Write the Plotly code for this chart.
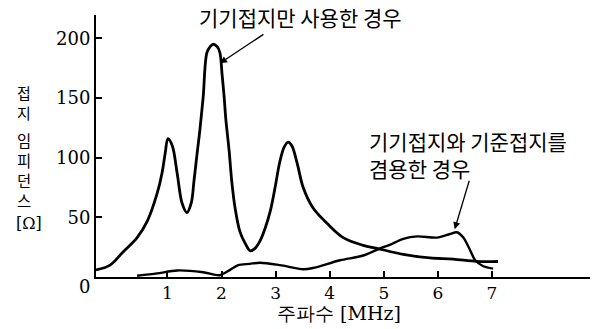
import plotly.graph_objects as go

# ---- data ----
freq_main = [-0.32, -0.06, 0.18, 0.44, 0.63, 0.81, 0.90, 0.96, 1.01, 1.09, 1.18, 1.27, 1.36,
             1.44, 1.49, 1.55, 1.60, 1.66, 1.73, 1.79, 1.84, 1.92, 1.97, 2.01, 2.05, 2.08,
             2.14, 2.19, 2.25, 2.34, 2.44, 2.53, 2.62, 2.71, 2.80, 2.90, 2.99, 3.08, 3.16,
             3.23, 3.30, 3.40, 3.51, 3.69, 3.95, 4.25, 4.62, 4.87, 5.36, 5.85, 6.28, 6.72, 7.11]
imp_main = [6, 10, 21, 33, 47, 70, 87, 104, 116, 110, 87, 62, 54,
            62, 80, 104, 123, 150, 188, 193, 195, 193, 188, 170, 150, 132,
            106, 80, 58, 38, 28, 22, 24, 30, 40, 55, 75, 97, 109,
            113, 110, 95, 75, 58, 45, 33, 26.5, 24, 19, 16, 15, 13, 13]

freq_comb = [0.44, 0.81, 1.18, 1.66, 1.97, 2.16, 2.31, 2.52, 2.71, 3.08, 3.51, 3.69,
             4.19, 4.62, 4.93, 5.11, 5.36, 5.62, 5.98, 6.22, 6.35, 6.47, 6.60, 6.69, 6.84, 7.02]
imp_comb = [1, 3, 5.5, 4, 1.5, 6, 10, 11, 12, 10, 6.5, 7.5,
            14, 18, 24, 27, 32, 34, 33, 36, 37.5, 33, 22, 14, 9, 7]

x_ticks = [1, 2, 3, 4, 5, 6, 7]
y_ticks = [50, 100, 150, 200]

label_main = "기기접지만 사용한 경우"
label_comb = "기기접지와 기준접지를<br>겸용한 경우"
x_title = "주파수 [MHz]"
y_title_parts = ["접<br>지", "임<br>피<br>던<br>스", "[Ω]"]

# ---- layout geometry ----
W, H = 595, 329
L, R, T, B = 96, 5, 15, 52
PW, PH = W - L - R, H - T - B

def px(xp):
    return (xp - L) / PW

def py(yp):
    return (H - B - yp) / PH

KR = "Noto Sans CJK KR"
SERIF = "DejaVu Serif"

fig = go.Figure()
fig.add_trace(go.Scatter(x=freq_main, y=imp_main, mode="lines",
                         line=dict(color="black", width=2.8, shape="spline", smoothing=1.0),
                         hoverinfo="skip"))
fig.add_trace(go.Scatter(x=freq_comb, y=imp_comb, mode="lines",
                         line=dict(color="black", width=2.4, shape="spline", smoothing=0.8),
                         hoverinfo="skip"))

ann = []
ann.append(dict(text=label_main, xref="paper", yref="paper", x=px(300), y=py(17),
                xanchor="center", yanchor="middle", showarrow=False,
                font=dict(family=KR, size=21, color="black")))
ann.append(dict(text=label_comb, xref="paper", yref="paper", x=px(367), y=py(154.5),
                xanchor="left", yanchor="middle", align="left", showarrow=False,
                font=dict(family=KR, size=21, color="black")))
# arrows
ann.append(dict(text="", xref="x", yref="y", x=1.97, y=179, ax=45, ay=-30,
                showarrow=True, arrowhead=2, arrowsize=1.1, arrowwidth=1.3, arrowcolor="black"))
ann.append(dict(text="", xref="x", yref="y", x=6.31, y=40, ax=15, ay=-50,
                showarrow=True, arrowhead=2, arrowsize=1.1, arrowwidth=1.3, arrowcolor="black"))
# x title
ann.append(dict(text=x_title, xref="paper", yref="paper", x=px(339), y=py(313),
                xanchor="center", yanchor="middle", showarrow=False,
                font=dict(family=SERIF, size=19, color="black")))
# origin label
ann.append(dict(text="0", xref="paper", yref="paper", x=px(84), y=py(286),
                xanchor="center", yanchor="middle", showarrow=False,
                font=dict(family=SERIF, size=18, color="black")))
# vertical (stacked) y title
y_title_y = [102.5, 169.5, 223]
y_title_x = [24, 24, 29]
y_title_fonts = [KR, KR, SERIF]
y_title_sizes = [15, 15.4, 16]
for txt, yy, xx, fam, sz in zip(y_title_parts, y_title_y, y_title_x, y_title_fonts, y_title_sizes):
    ann.append(dict(text=txt, xref="paper", yref="paper", x=px(xx), y=py(yy),
                    xanchor="center", yanchor="middle", showarrow=False,
                    font=dict(family=fam, size=sz, color="black")))

fig.update_layout(
    width=W, height=H,
    margin=dict(l=L, r=R, t=T, b=B),
    paper_bgcolor="white", plot_bgcolor="white",
    showlegend=False,
    annotations=ann,
    xaxis=dict(range=[-0.32, -0.32 + PW / 54.1], tickvals=x_ticks,
               ticktext=[str(v) for v in x_ticks],
               ticks="inside", ticklen=6, tickwidth=1.5, tickcolor="black",
               showline=True, linecolor="black", linewidth=2,
               showgrid=False, zeroline=False,
               tickfont=dict(family=SERIF, size=17, color="black")),
    yaxis=dict(range=[0, PH / 1.1935], tickvals=y_ticks,
               ticktext=[str(v) for v in y_ticks],
               ticks="inside", ticklen=6, tickwidth=1.5, tickcolor="black",
               showline=True, linecolor="black", linewidth=2,
               showgrid=False, zeroline=False,
               tickfont=dict(family=SERIF, size=18, color="black")),
)

fig.write_html("out.html", config={"displayModeBar": False},
               post_script="document.body.style.margin='0px';")
